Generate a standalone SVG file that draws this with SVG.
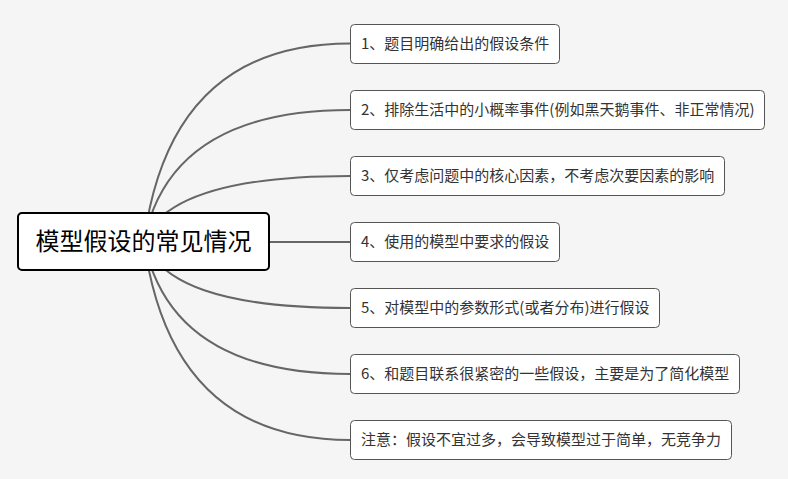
<svg xmlns="http://www.w3.org/2000/svg" width="788" height="479" viewBox="0 0 788 479">
<style>
.bg{fill:#f5f5f5}
.conn path{fill:none;stroke:#666;stroke-width:2}
.box{fill:#fff;stroke:#555;stroke-width:1}
.root{fill:#fff;stroke:#000;stroke-width:2}
.t{font-family:"Microsoft YaHei","Noto Sans CJK SC",sans-serif;font-size:15px;fill:#333}
.rt{font-family:"Microsoft YaHei","Noto Sans CJK SC",sans-serif;font-size:24px;fill:#000}
</style>
<rect class="bg" x="0" y="0" width="788" height="479"/>
<g id="connectors" class="conn">
<path d="M144,241 C160,120 220,43.5 350,43.5"/>
<path d="M144,241 C160,161 220,110 350,110"/>
<path d="M144,241 C160,201 220,176 350,176"/>
<path d="M144,242 L350,242"/>
<path d="M144,241 C160,283 220,308 350,308"/>
<path d="M144,241 C160,322 220,374 350,374"/>
<path d="M144,241 C160,362 220,440 350,440"/>
</g>
<g id="root">
<rect class="root" x="18" y="213" width="251" height="57" rx="4"/>
<text class="rt" x="143.5" y="250" text-anchor="middle">模型假设的常见情况</text>
</g>
<g id="n1">
<rect class="box" x="350.5" y="24.5" width="209" height="39" rx="4"/>
<text class="t" x="361" y="49">1、题目明确给出的假设条件</text>
</g>
<g id="n2">
<rect class="box" x="350.5" y="90.5" width="414" height="39" rx="4"/>
<text class="t" x="361" y="115">2、排除生活中的小概率事件(例如黑天鹅事件、非正常情况)</text>
</g>
<g id="n3">
<rect class="box" x="350.5" y="156.5" width="374" height="39" rx="4"/>
<text class="t" x="361" y="181">3、仅考虑问题中的核心因素，不考虑次要因素的影响</text>
</g>
<g id="n4">
<rect class="box" x="350.5" y="222.5" width="209" height="39" rx="4"/>
<text class="t" x="361" y="247">4、使用的模型中要求的假设</text>
</g>
<g id="n5">
<rect class="box" x="350.5" y="288.5" width="309" height="39" rx="4"/>
<text class="t" x="361" y="313">5、对模型中的参数形式(或者分布)进行假设</text>
</g>
<g id="n6">
<rect class="box" x="350.5" y="354.5" width="389" height="39" rx="4"/>
<text class="t" x="361" y="379">6、和题目联系很紧密的一些假设，主要是为了简化模型</text>
</g>
<g id="n7">
<rect class="box" x="350.5" y="420.5" width="381" height="39" rx="4"/>
<text class="t" x="361" y="445">注意：假设不宜过多，会导致模型过于简单，无竞争力</text>
</g>
</svg>
